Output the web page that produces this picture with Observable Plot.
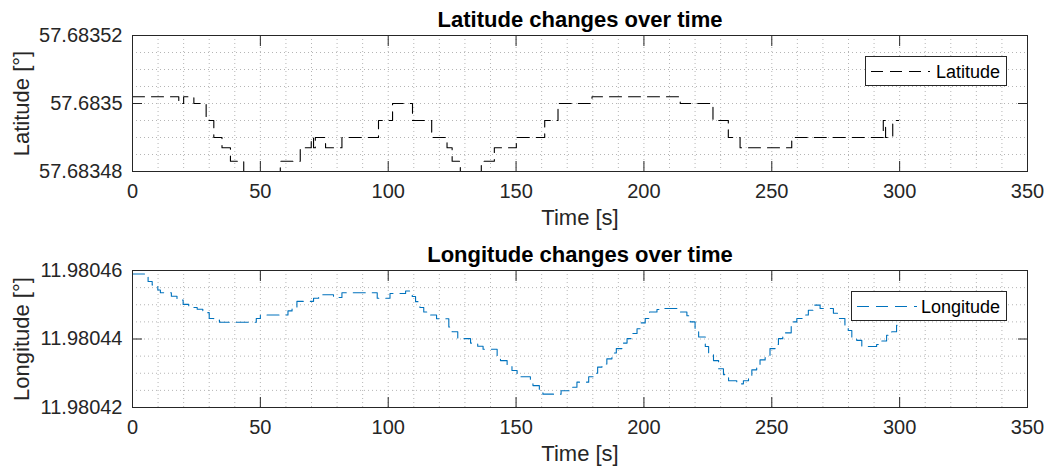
<!DOCTYPE html>
<html>
<head>
<meta charset="utf-8">
<script src="https://cdn.jsdelivr.net/npm/d3@7"></script>
<script src="https://cdn.jsdelivr.net/npm/@observablehq/plot@0.6"></script>
<style>
  body { margin: 0; background: #fff; }
  #chart { position: relative; width: 1048px; height: 474px; font-family: "Liberation Sans", Arial, Helvetica, sans-serif; }
  #chart svg { display: block; }
</style>
</head>
<body>
<div id="chart"></div>
<script>
// ---- data ----
const latTime = [0, 18.1, 20.0, 24.0, 28.8, 31.8, 35.0, 38.3, 43.5, 57.8, 65.6, 69.9, 70.8, 71.5, 75.5, 81.9, 96.2, 101.7, 109.5, 117.0, 123.0, 125.0, 128.2, 136.4, 141.5, 150.1, 161.2, 166.4, 179.7, 214.2, 227.0, 233.0, 237.6, 257.8, 293.6, 294.5, 297.3, 299.6];
const latValue = [57.683502, 57.6835, 57.683502, 57.6835, 57.683495, 57.68349, 57.683487, 57.683483, 57.68348, 57.683483, 57.683487, 57.68349, 57.683487, 57.68349, 57.683487, 57.68349, 57.683495, 57.6835, 57.683495, 57.68349, 57.683487, 57.683483, 57.68348, 57.683483, 57.683487, 57.68349, 57.683495, 57.6835, 57.683502, 57.6835, 57.683495, 57.68349, 57.683487, 57.68349, 57.683495, 57.68349, 57.683495, 57.683495];

const lonTime = [0, 6.1, 7.7, 9.9, 10.9, 15.2, 17.4, 19.8, 22.0, 25.3, 27.5, 30.0, 31.8, 34.0, 48.4, 50.0, 60.8, 62.4, 64.3, 70.8, 72.8, 78.6, 81.9, 95.7, 100.7, 106.8, 109.4, 110.7, 112.4, 113.9, 115.5, 118.9, 123.7, 125.0, 127.2, 132.2, 135.0, 137.1, 142.6, 143.9, 146.5, 148.4, 150.4, 155.6, 156.6, 159.1, 160.5, 167.6, 171.0, 173.8, 178.4, 180.1, 181.9, 183.6, 185.5, 187.5, 189.2, 191.4, 193.4, 195.1, 197.3, 198.8, 200.5, 202.2, 205.1, 207.7, 214.2, 216.8, 218.1, 220.0, 221.4, 224.0, 225.3, 227.2, 229.2, 231.1, 233.1, 236.3, 238.9, 240.9, 242.2, 244.1, 245.4, 247.4, 249.3, 251.3, 252.6, 254.3, 257.6, 259.8, 262.4, 264.3, 266.3, 268.9, 274.1, 276.0, 278.6, 279.9, 281.3, 283.2, 285.2, 291.0, 292.3, 294.9, 296.9, 298.8, 299.6];
const lonValue = [11.980459, 11.9804568, 11.9804558, 11.9804543, 11.9804535, 11.9804525, 11.9804514, 11.9804501, 11.9804492, 11.9804487, 11.9804477, 11.980446, 11.9804455, 11.9804449, 11.980446, 11.980447, 11.9804482, 11.9804492, 11.980451, 11.9804519, 11.9804529, 11.9804521, 11.9804535, 11.9804519, 11.9804533, 11.980454, 11.9804524, 11.9804509, 11.9804492, 11.9804479, 11.980447, 11.9804459, 11.9804435, 11.9804421, 11.9804401, 11.9804388, 11.9804379, 11.980437, 11.9804349, 11.9804337, 11.9804323, 11.9804308, 11.980429, 11.9804274, 11.9804264, 11.9804247, 11.9804239, 11.9804249, 11.9804259, 11.9804274, 11.980429, 11.98043, 11.9804318, 11.9804327, 11.9804342, 11.9804359, 11.9804372, 11.9804388, 11.9804401, 11.9804416, 11.980443, 11.9804447, 11.980446, 11.9804479, 11.9804486, 11.9804489, 11.9804479, 11.9804468, 11.980445, 11.980443, 11.9804406, 11.9804378, 11.9804357, 11.9804337, 11.9804313, 11.9804296, 11.9804278, 11.9804269, 11.9804278, 11.9804293, 11.980431, 11.9804323, 11.9804339, 11.9804352, 11.9804372, 11.9804384, 11.9804401, 11.9804418, 11.980445, 11.980446, 11.980447, 11.9804484, 11.9804499, 11.9804489, 11.9804475, 11.980446, 11.980444, 11.9804425, 11.9804406, 11.9804396, 11.9804378, 11.9804384, 11.9804394, 11.9804411, 11.9804421, 11.980444, 11.980444];

const xTicks = [0, 50, 100, 150, 200, 250, 300, 350];
const xTickLabels = ["0", "50", "100", "150", "200", "250", "300", "350"];
const xMinor = [0, 10, 20, 30, 40, 50, 60, 70, 80, 90, 100, 110, 120, 130, 140, 150, 160, 170, 180, 190, 200, 210, 220, 230, 240, 250, 260, 270, 280, 290, 300, 310, 320, 330, 340, 350];

const latDomain = [57.68348, 57.68352];
const latTicks = [57.68348, 57.6835, 57.68352];
const latTickLabels = ["57.68348", "57.6835", "57.68352"];
const latMinor = [57.68348, 57.683485, 57.68349, 57.683495, 57.6835, 57.683505, 57.68351, 57.683515, 57.68352];

const lonDomain = [11.98042, 11.98046];
const lonTicks = [11.98042, 11.98044, 11.98046];
const lonTickLabels = ["11.98042", "11.98044", "11.98046"];
const lonMinor = [11.98042, 11.980425, 11.98043, 11.980435, 11.98044, 11.980445, 11.98045, 11.980455, 11.98046];

const seriesNames = ["Latitude", "Longitude"];
const seriesColors = ["#000000", "#0072BD"];
const titles = ["Latitude changes over time", "Longitude changes over time"];
const yLabels = ["Latitude [°]", "Longitude [°]"];
const xLabel = "Time [s]";

// ---- drawing ----
const FONT = "'Liberation Sans', Arial, Helvetica, sans-serif";
const AX = "#262626";
const DASH = "12,7";

function fmt(ticks, labels) {
  return d => labels[ticks.findIndex(t => Math.abs(t - d) < 1e-9)];
}

function panel(cfg) {
  const rows = cfg.time.map((t, i) => ({t, v: cfg.value[i]}));
  const gridStyle = {stroke: "#b5b5b5", strokeOpacity: 1, strokeWidth: 1, strokeDasharray: "1,3"};
  return Plot.plot({
    width: 1048,
    height: 237,
    marginLeft: 132,
    marginRight: 21,
    marginTop: cfg.mt,
    marginBottom: cfg.mb,
    x: {domain: [0, 350]},
    y: {domain: cfg.yDomain},
    style: {fontFamily: FONT, fontSize: "20px", color: AX, background: "white", overflow: "visible"},
    marks: [
      Plot.gridX(xMinor, gridStyle),
      Plot.gridY(cfg.yMinor, gridStyle),
      Plot.line(rows, {x: "t", y: "v", curve: "step-after", stroke: cfg.color, strokeWidth: 1.1, strokeDasharray: DASH}),
      Plot.frame({stroke: AX, strokeWidth: 1}),
      Plot.axisX(xTicks, {anchor: "bottom", tickSize: 10, dy: -10, fill: "none", stroke: AX}),
      Plot.axisX(xTicks, {anchor: "top", tickSize: 10, dy: 10, fill: "none", stroke: AX}),
      Plot.axisY(cfg.yTicks, {anchor: "left", tickSize: 10, dx: 10, fill: "none", stroke: AX}),
      Plot.axisY(cfg.yTicks, {anchor: "right", tickSize: 10, dx: -10, fill: "none", stroke: AX}),
      Plot.axisX(xTicks, {anchor: "bottom", tickSize: 0, tickPadding: 12, tickFormat: fmt(xTicks, xTickLabels), label: null, fontSize: 20, fill: AX}),
      Plot.axisY(cfg.yTicks, {anchor: "left", tickSize: 0, tickPadding: 10, tickFormat: fmt(cfg.yTicks, cfg.yTickLabels), label: null, fontSize: 20, fill: AX}),
      Plot.text([cfg.title], {frameAnchor: "top", textAnchor: "middle", lineAnchor: "bottom", dy: -9, fontSize: 22, fontWeight: "bold", fill: "black"}),
      Plot.text([xLabel], {frameAnchor: "bottom", textAnchor: "middle", lineAnchor: "bottom", dy: 53, fontSize: 22, fill: AX}),
      Plot.text([cfg.ylabel], {frameAnchor: "left", textAnchor: "middle", rotate: -90, lineAnchor: "bottom", dx: -103.5, fontSize: 22, fill: AX})
    ]
  });
}

const chart = document.getElementById("chart");
chart.appendChild(panel({
  time: latTime, value: latValue, color: seriesColors[0], yDomain: latDomain,
  yTicks: latTicks, yTickLabels: latTickLabels, yMinor: latMinor,
  title: titles[0], ylabel: yLabels[0], mt: 35, mb: 66
}));
chart.appendChild(panel({
  time: lonTime, value: lonValue, color: seriesColors[1], yDomain: lonDomain,
  yTicks: lonTicks, yTickLabels: lonTickLabels, yMinor: lonMinor,
  title: titles[1], ylabel: yLabels[1], mt: 33, mb: 67
}));

// ---- legends ----
const NS = "http://www.w3.org/2000/svg";
const overlay = document.createElementNS(NS, "svg");
overlay.setAttribute("width", 1048);
overlay.setAttribute("height", 474);
overlay.setAttribute("style", "position:absolute;left:0;top:0;pointer-events:none");
overlay.setAttribute("font-family", "Liberation Sans, Arial, Helvetica, sans-serif");
overlay.setAttribute("font-size", "18");
const legendBoxes = [
  {x: 865.5, y: 56.5, w: 141, h: 29, lx1: 871, lx2: 930, ly: 71.5, tx: 936, ty: 77.5},
  {x: 851.5, y: 291.5, w: 155, h: 29, lx1: 857, lx2: 917, ly: 306.5, tx: 921, ty: 312.5}
];
legendBoxes.forEach((b, i) => {
  const r = document.createElementNS(NS, "rect");
  r.setAttribute("x", b.x); r.setAttribute("y", b.y);
  r.setAttribute("width", b.w); r.setAttribute("height", b.h);
  r.setAttribute("fill", "white"); r.setAttribute("stroke", AX); r.setAttribute("stroke-width", 1);
  overlay.appendChild(r);
  const l = document.createElementNS(NS, "line");
  l.setAttribute("x1", b.lx1); l.setAttribute("x2", b.lx2);
  l.setAttribute("y1", b.ly); l.setAttribute("y2", b.ly);
  l.setAttribute("stroke", seriesColors[i]); l.setAttribute("stroke-width", 1.1);
  l.setAttribute("stroke-dasharray", DASH);
  overlay.appendChild(l);
  const t = document.createElementNS(NS, "text");
  t.setAttribute("x", b.tx); t.setAttribute("y", b.ty);
  t.setAttribute("fill", "black");
  t.textContent = seriesNames[i];
  overlay.appendChild(t);
});
chart.appendChild(overlay);
</script>
</body>
</html>
